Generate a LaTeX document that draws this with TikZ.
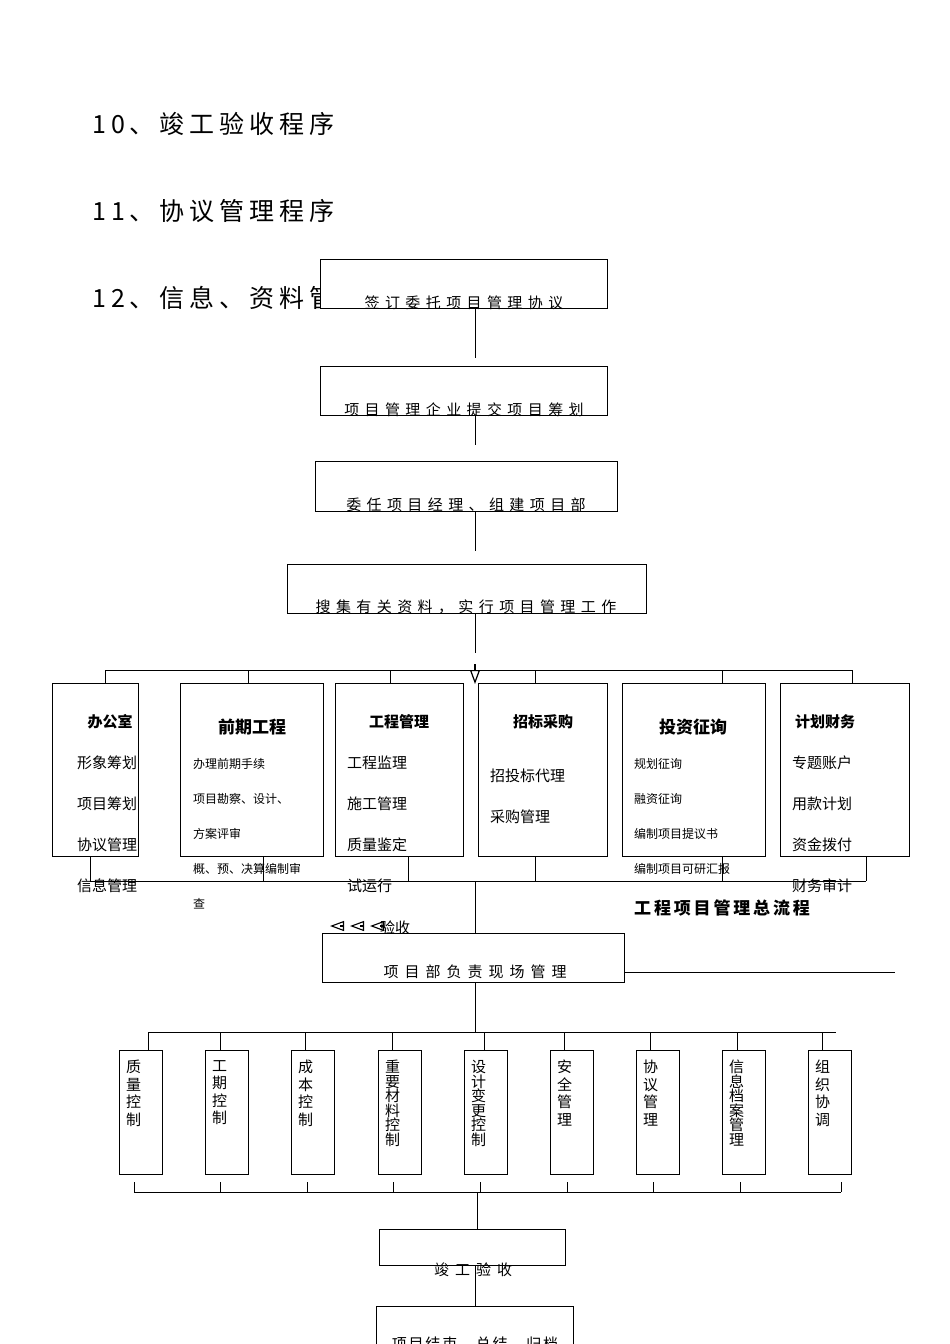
\documentclass[tikz,border=0pt]{standalone}
\usepackage{fontspec}
\setmainfont{Noto Sans CJK SC}
\usetikzlibrary{arrows.meta}
\begin{document}
\begin{tikzpicture}[x=1pt,y=-1pt,
  bx/.style={draw,fill=white,line width=0.8pt},
  ln/.style={line width=0.8pt},
  t/.style={inner sep=0pt,anchor=base,font=\fontsize{15}{15}\selectfont\addfontfeature{LetterSpace=36}},
  tw/.style={inner sep=0pt,anchor=base,font=\fontsize{15}{15}\selectfont\addfontfeature{LetterSpace=40}},
  tl/.style={inner sep=0pt,anchor=base west,font=\fontsize{15}{15}\selectfont},
  ts/.style={inner sep=0pt,anchor=base west,font=\fontsize{12}{12}\selectfont},
  hd/.style={inner sep=0pt,anchor=base,font=\fontsize{15}{15}\selectfont\bfseries},
  hh/.style={inner sep=0pt,anchor=base west,font=\fontsize{25}{25}\selectfont\addfontfeature{LetterSpace=20}},
  vt/.style={inner sep=0pt,anchor=north west,align=center,font=\fontsize{15}{17.5}\selectfont}]
\useasboundingbox (0,0) rectangle (950,1344);
\clip (0,0) rectangle (950,1344);
\node[hh] (h10) at (92,133) {10、竣工验收程序};
\node[hh] (h11) at (92,220) {11、协议管理程序};
\node[hh] (h12) at (92,307) {12、信息、资料管理程序};
% top chain
\draw[bx] (320,259) rectangle (607,308);
\node[t] (t1) at (464,308) {签订委托项目管理协议};
\draw[ln] (475,308) -- (475,358);
\draw[bx] (320,366) rectangle (607,415);
\node[t] (t2) at (464,415) {项目管理企业提交项目筹划};
\draw[ln] (475,415) -- (475,445);
\draw[bx] (315,461) rectangle (617,511);
\node[t] (t3) at (466,510) {委任项目经理、组建项目部};
\draw[ln] (475,511) -- (475,551);
\draw[bx] (287,564) rectangle (646,613);
\node[t] (t4) at (466,612) {搜集有关资料，实行项目管理工作};
\draw[ln] (475,613) -- (475,653);
% bus 1
\draw[ln] (105,670) -- (852,670);
\foreach \x in {105,248,390,535,722,852} \draw[ln] (\x,670) -- (\x,683);
\draw[-{Triangle[open,length=14pt,width=10pt]},line width=1.2pt] (475,664) -- (475,684);
% six boxes
\draw[bx] (52,683) rectangle (138,856);
\draw[bx] (180,683) rectangle (323,856);
\draw[bx] (335,683) rectangle (463,856);
\draw[bx] (478,683) rectangle (607,856);
\draw[bx] (622,683) rectangle (765,856);
\draw[bx] (780,683) rectangle (909,856);
\node[hd] at (110,727) {办公室};
\node[hd,font=\fontsize{17}{17}\selectfont\bfseries] at (252,733) {前期工程};
\node[hd] at (399,727) {工程管理};
\node[hd] at (543,727) {招标采购};
\node[hd,font=\fontsize{17}{17}\selectfont\bfseries] at (693,733) {投资征询};
\node[hd] at (825,727) {计划财务};
\foreach \s [count=\i] in {形象筹划,项目筹划,协议管理,信息管理} \node[tl] at (77,768+41*\i-41) {\s};
\foreach \s [count=\i] in {办理前期手续,项目勘察、设计、,方案评审,概、预、决算编制审,查} \node[ts] at (193,768+35*\i-35) {\s};
\foreach \s [count=\i] in {工程监理,施工管理,质量鉴定,试运行} \node[tl] at (347,768+41*\i-41) {\s};
\foreach \s [count=\i] in {招投标代理,采购管理} \node[tl] at (490,781+41*\i-41) {\s};
\foreach \s [count=\i] in {规划征询,融资征询,编制项目提议书,编制项目可研汇报} \node[ts] at (634,768+35*\i-35) {\s};
\foreach \s [count=\i] in {专题账户,用款计划,资金拨付,财务审计} \node[tl] at (792,768+41*\i-41) {\s};
% bus 2
\draw[ln] (90,881) -- (866,881);
\foreach \x in {90,263,408,535,722,866} \draw[ln] (\x,856) -- (\x,881);
\draw[ln] (475,881) -- (475,933);
\node[tl] (ys) at (380,933) {验收};
\foreach \x in {330,350,370} \draw[{Triangle[open,length=14pt,width=10pt]}-,line width=1.1pt] (\x,926) -- (\x+10,926);
\node[inner sep=0pt,anchor=base west,font=\fontsize{17}{17}\selectfont\bfseries\itshape] (title) at (634,914) {工\,程\,项\,目\,管\,理\,总\,流\,程};
% site box
\draw[bx] (322,933) rectangle (624,982);
\node[tw] (t5) at (475,977) {项目部负责现场管理};
\draw[ln] (624,972) -- (895,972);
\draw[ln] (475,982) -- (475,1032);
% bus 3
\draw[ln] (148,1032) -- (836,1032);
\foreach \bx/\dx in {119/148,205/220,291/305,378/392,464/484,550/564,636/650,722/737,808/822}{
  \draw[bx] (\bx,1050) rectangle (\bx+43,1174);
  \draw[ln] (\dx,1032) -- (\dx,1050);
}
\node[vt] at (126,1060) {质\\量\\控\\制};
\node[vt] at (212,1060) {工\\期\\控\\制};
\node[vt] at (298,1060) {成\\本\\控\\制};
\node[vt] at (385,1060) {重\\[-3pt]要\\[-3pt]材\\[-3pt]料\\[-3pt]控\\[-3pt]制};
\node[vt] at (471,1060) {设\\[-3pt]计\\[-3pt]变\\[-3pt]更\\[-3pt]控\\[-3pt]制};
\node[vt] at (557,1060) {安\\全\\管\\理};
\node[vt] at (643,1060) {协\\议\\管\\理};
\node[vt] at (729,1060) {信\\[-3pt]息\\[-3pt]档\\[-3pt]案\\[-3pt]管\\[-3pt]理};
\node[vt] at (815,1060) {组\\织\\协\\调};
% bus 4
\draw[ln] (134,1192) -- (841,1192);
\foreach \x in {134,220,307,393,480,567,653,740,841} \draw[ln] (\x,1182) -- (\x,1192);
\draw[ln] (477,1192) -- (477,1229);
\draw[bx] (379,1229) rectangle (565,1265);
\node[tw] (t6) at (473,1275) {竣工验收};
\draw[ln] (475,1265) -- (475,1306);
\draw[bx] (376,1306) rectangle (573,1360);
\node[inner sep=0pt,anchor=base,font=\fontsize{15}{15}\selectfont\addfontfeature{LetterSpace=12}] (t7) at (475,1349) {项目结束、总结、归档};
\end{tikzpicture}
\end{document}
